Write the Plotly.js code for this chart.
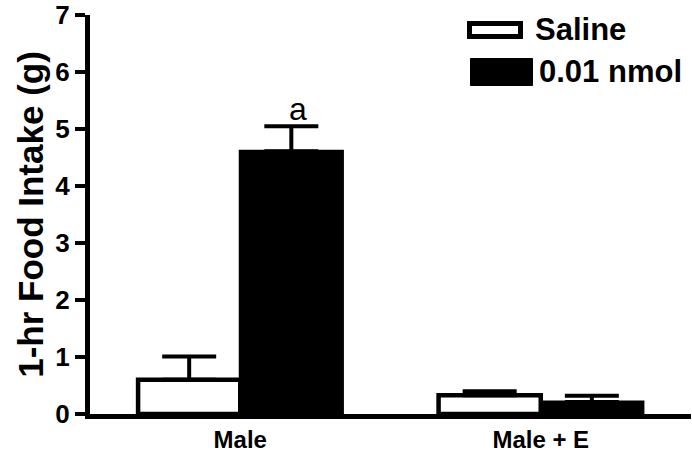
<!DOCTYPE html>
<html><head><meta charset="utf-8">
<script src="https://cdn.plot.ly/plotly-3.0.1.min.js"></script>
<style>body{margin:0;background:#fff}#c{width:692px;height:461px}</style>
</head><body><div id="c"></div>
<script>
const categories = ["Male", "Male + E"];
const salineMeans = [0.60, 0.33];
const salineErr = [0.41, 0.07];
const dose = [4.61, 0.21];
const doseErr = [0.44, 0.11];
const seriesNames = ["Saline", "0.01 nmol"];
const yTicks = [0,1,2,3,4,5,6,7];
const sigLabel = "a";

const font = "Liberation Sans, Arial, sans-serif";
const errStyle = {color:'#000', thickness:4, width:27};
const traces = [
  {type:'bar', name:seriesNames[0], x:categories, y:salineMeans,
   marker:{color:'#fff', line:{color:'#000', width:4.5}},
   error_y:Object.assign({type:'data', symmetric:false, array:salineErr, arrayminus:salineErr.map(()=>0)}, errStyle),
   showlegend:false},
  {type:'bar', name:seriesNames[1], x:categories, y:dose,
   marker:{color:'#000', line:{color:'#000', width:3}},
   error_y:Object.assign({type:'data', symmetric:false, array:doseErr, arrayminus:doseErr.map(()=>0)}, errStyle),
   showlegend:false}
];
const bargap = 0.32;
const barW = (1 - bargap) / 2;
const L = 90, T = 15, PW = 601, PH = 399;
const px = v => (v - L) / PW;
const py = v => 1 - (v - T) / PH;
const layout = {
  width:692, height:461,
  margin:{l:L, r:692-L-PW, t:T, b:461-T-PH},
  paper_bgcolor:'#fff', plot_bgcolor:'#fff',
  barmode:'group', bargap:bargap, bargroupgap:0,
  font:{family:font, color:'#000'},
  xaxis:{type:'category', range:[-0.5, 1.5], showline:true, linecolor:'#000', linewidth:5,
    tickvals:categories, ticktext:categories.map(c=>'<b>'+c+'</b>'),
    ticks:'', showgrid:false, zeroline:false,
    tickfont:{size:24, family:font}},
  yaxis:{range:[0,7], tickvals:yTicks, ticktext:yTicks.map(v=>'<b>'+v+'</b>'), showline:true, linecolor:'#000', linewidth:5,
    ticks:'outside', ticklen:10, tickwidth:4, tickcolor:'#000', showgrid:false, zeroline:false,
    tickfont:{size:26, family:font},
    title:{text:'<b>1-hr Food Intake (g)</b>', font:{size:35, family:font}, standoff:3}},
  annotations:[
    {xref:'x', yref:'y', x:0 + barW/2, y:dose[0] + doseErr[0], text:sigLabel, showarrow:false,
     yanchor:'bottom', yshift:-3, xshift:7, font:{size:32, family:font}},
    {xref:'paper', yref:'paper', x:px(533), y:py(29), text:'<b>'+seriesNames[0]+'</b>', showarrow:false,
     xanchor:'left', yanchor:'middle', font:{size:31, family:font}},
    {xref:'paper', yref:'paper', x:px(537), y:py(71), text:'<b>'+seriesNames[1]+'</b>', showarrow:false,
     xanchor:'left', yanchor:'middle', font:{size:31, family:font}}
  ],
  shapes:[
    {type:'rect', xref:'paper', yref:'paper', x0:px(469.5), x1:px(520.5), y0:py(36.5), y1:py(23.5),
     fillcolor:'#fff', line:{color:'#000', width:5}},
    {type:'rect', xref:'paper', yref:'paper', x0:px(470.5), x1:px(532.5), y0:py(85.5), y1:py(58.5),
     fillcolor:'#000', line:{color:'#000', width:1}}
  ]
};
Plotly.newPlot('c', traces, layout, {displayModeBar:false, staticPlot:true});
</script></body></html>
